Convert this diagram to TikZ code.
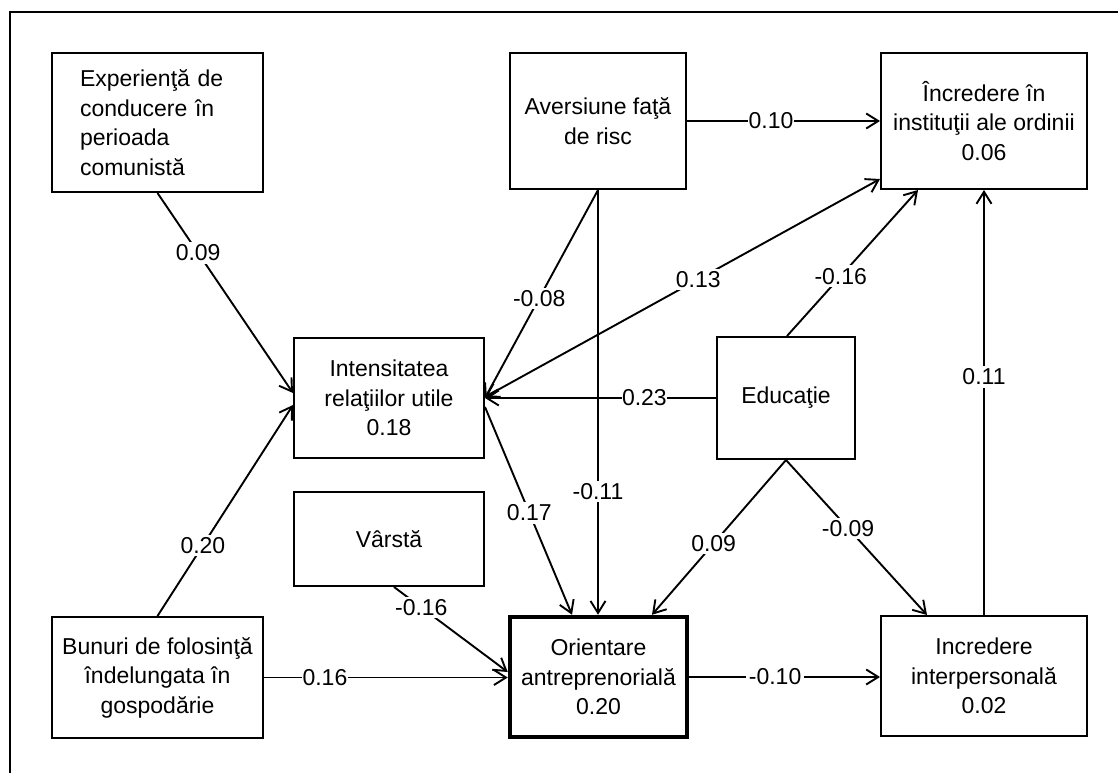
\documentclass[tikz,border=0pt]{standalone}
\usepackage{fontspec}
\setmainfont{Liberation Sans}
\usetikzlibrary{arrows.meta}
\tikzset{
  box/.style={draw, line width=2pt, inner sep=0pt, align=center, font=\fontsize{23}{29.5}\selectfont},
  conn/.style={line width=1.9pt, -{Straight Barb[length=12pt,width=15pt]}},
  biconn/.style={line width=1.9pt, {Straight Barb[length=12pt,width=15pt]}-{Straight Barb[length=12pt,width=15pt]}},
  lbl/.style={fill=white, inner sep=2.5pt, font=\fontsize{23}{28}\selectfont},
  hlbl/.style={fill=white, inner xsep=0.5pt, inner ysep=2pt, font=\fontsize{23}{28}\selectfont},
  frame/.style={line width=1.3pt},
}
\begin{document}
\begin{tikzpicture}[x=1pt,y=-1pt]
\useasboundingbox (0,0) rectangle (1118,773);
\draw[frame] (1118,12) -- (10,12) -- (10,773);

% boxes
\node[box, minimum width=211pt, minimum height=139pt, text width=155pt, align=left] (exp) at (157.5,122.5) {Experienţă de\\conducere în\\perioada\\comunistă};
\node[box, minimum width=176pt, minimum height=136pt] (avers) at (598,121) {Aversiune faţă\\de risc};
\node[box, minimum width=206pt, minimum height=136pt] (inst) at (984,121) {Încredere în\\instituţii ale ordinii\\0.06};
\node[box, minimum width=190pt, minimum height=120pt] (int) at (389,398) {Intensitatea\\relaţiilor utile\\0.18};
\node[box, minimum width=138pt, minimum height=122pt] (edu) at (786,398) {Educaţie};
\node[box, minimum width=190pt, minimum height=94pt] (varsta) at (389,539) {Vârstă};
\node[box, minimum width=211pt, minimum height=121pt] (bunuri) at (157.5,677.5) {Bunuri de folosinţă\\îndelungata în\\gospodărie};
\node[box, line width=4.5pt, minimum width=177pt, minimum height=120pt] (orient) at (598.5,677) {Orientare\\antreprenorială\\0.20};
\node[box, minimum width=206pt, minimum height=120pt] (interp) at (984,676) {Incredere\\interpersonală\\0.02};

% connectors
\draw[conn] (exp.south) -- ([yshift=5pt]int.west) node[lbl, pos=0.30] {0.09};
\draw[conn] (bunuri.north) -- ([yshift=-7pt]int.west) node[lbl, pos=0.335] {0.20};
\draw[conn] (avers.east) -- (avers.east -| inst.west) node[hlbl, pos=0.435] {0.10};
\draw[conn] (avers.south) -- (int.east) node[lbl, pos=0.52] {-0.08};
\draw[conn] (avers.south) -- (avers.south |- orient.north) node[lbl, pos=0.71] {-0.11};
\draw[biconn] ([yshift=1pt]int.east) -- ([yshift=11pt]inst.south west) node[lbl, pos=0.54] {0.13};
\draw[conn] ([xshift=1pt]edu.north) -- ([xshift=-66pt]inst.south) node[lbl, pos=0.41] {-0.16};
\draw[conn] (edu.west) -- (int.east) node[hlbl, pos=0.31] {0.23};
\draw[conn] ([yshift=-9pt]int.east) -- ([xshift=-26.5pt]orient.north) node[lbl, pos=0.51] {0.17};
\draw[conn] (edu.south) -- ([xshift=53.5pt]orient.north) node[lbl, pos=0.54] {0.09};
\draw[conn] (edu.south) -- ([xshift=-57pt]interp.north) node[lbl, pos=0.44] {-0.09};
\draw[conn] (interp.north) -- (inst.south) node[lbl, pos=0.56] {0.11};
\draw[conn] ([xshift=5pt]varsta.south) -- ([yshift=5pt]orient.west) node[lbl, pos=0.24] {-0.16};
\draw[conn] (bunuri.east) -- (bunuri.east -| orient.west) node[hlbl, pos=0.25] {0.16};
\draw[conn] (orient.east) -- (orient.east -| interp.west) node[hlbl, pos=0.45, inner xsep=3pt] {-0.10};
\end{tikzpicture}
\end{document}
